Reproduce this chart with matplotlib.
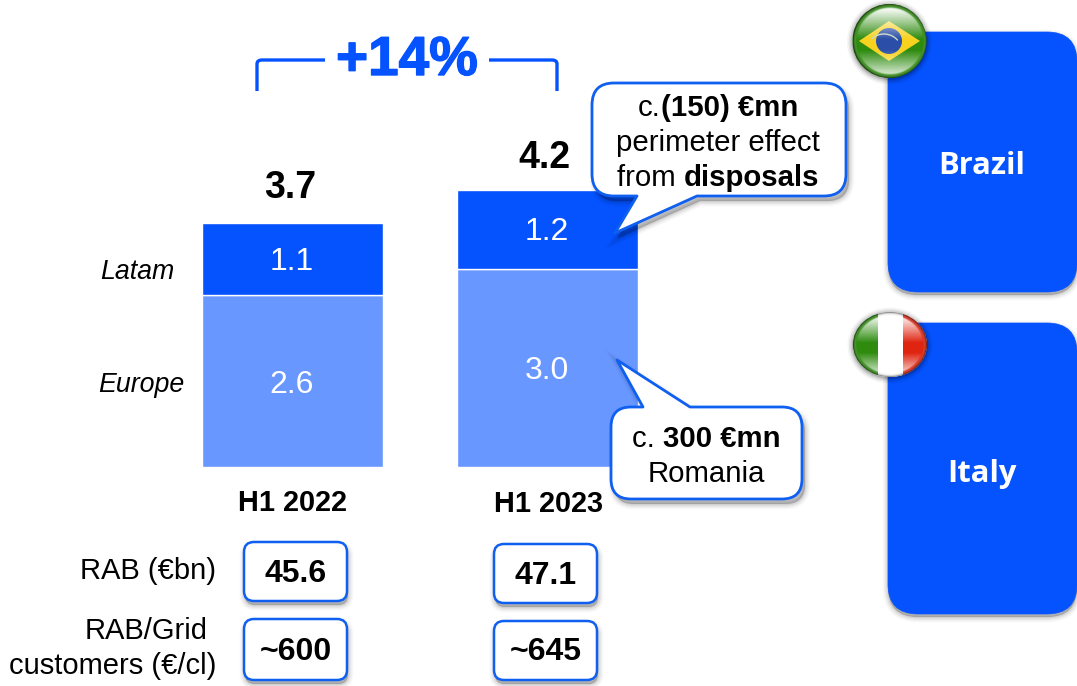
#Grafico de barras apiladas H1 2022 / H1 2023 con paneles de paises
import numpy as np
import matplotlib
matplotlib.use("Agg")
import matplotlib.pyplot as plt
import matplotlib.patheffects as pe
from matplotlib.patches import Ellipse, PathPatch, Polygon, Rectangle, Circle, Arc
from matplotlib.path import Path

plt.rcParams['font.family'] = ['Liberation Sans', 'DejaVu Sans']

#Datos
periodos = ["H1 2022", "H1 2023"]
europe = [2.6, 3.0]
latam = [1.1, 1.2]
totales = [3.7, 4.2]
rab = ["45.6", "47.1"]
rab_clientes = ["~600", "~645"]
variacion = "+14%"

AZUL = "#0552FF"
AZUL_CLARO = "#6897FF"
BORDE = "#0F5FF0"
W, H = 1077, 686

fig = plt.figure(figsize=(W / 100, H / 100), dpi=100, facecolor="white")

#Eje de las barras: 66 px por unidad, categorias separadas 255 px
y0 = 467
ax_b = fig.add_axes([0, (H - y0) / H, 1, y0 / H])
ax_b.set_xlim(-292.5 / 255, (W - 292.5) / 255)
ax_b.set_ylim(0, y0 / 66)
ax_b.axis("off")

#Eje en pixeles para las anotaciones
ax = fig.add_axes([0, 0, 1, 1], facecolor="none")
ax.set_xlim(0, W)
ax.set_ylim(H, 0)
ax.axis("off")

x = np.arange(len(periodos))
ax_b.bar(x, europe, width=0.71, color=AZUL_CLARO, edgecolor="white", linewidth=1)
ax_b.bar(x, latam, width=0.71, bottom=europe, color=AZUL, edgecolor="white", linewidth=1)
for i in x:
    ax_b.annotate(f"{europe[i]:.1f}", (i, europe[i] / 2), xytext=(-0.5, -2.5), textcoords="offset points",
                  color="white", fontsize=23, ha="center", va="center")
    ax_b.annotate(f"{latam[i]:.1f}", (i, europe[i] + latam[i] / 2), xytext=(-0.5, -2), textcoords="offset points",
                  color="white", fontsize=23, ha="center", va="center")
    #el total de la segunda barra queda algo mas cerca de la barra
    ax_b.annotate(f"{totales[i]:.1f}", (i, europe[i] + latam[i]), xytext=(-2, 12 - 2 * i), textcoords="offset points",
                  fontsize=27, fontweight="bold", ha="center", va="bottom", color="black")


#Sombra difusa: varias copias desplazadas con poca opacidad
def sombra(path, dx=3, dy=5, zorder=2):
    p = path.transformed(matplotlib.transforms.Affine2D().translate(dx, dy))
    for lw, alpha in [(8, 0.025), (6, 0.035), (4, 0.05), (2, 0.06), (0.5, 0.06)]:
        ax.add_patch(PathPatch(p, facecolor=(0, 0, 0, alpha), edgecolor=(0, 0, 0, alpha), linewidth=lw, zorder=zorder))


#Rectangulo redondeado, con cola opcional arriba o abajo
def caja_path(x0, y0, x1, y1, r, cola=None, lado=None):
    v = [(x0 + r, y0)]
    c = [Path.MOVETO]
    if lado == "top":
        v += cola
        c += [Path.LINETO] * 3
    v += [(x1 - r, y0), (x1, y0), (x1, y0 + r), (x1, y1 - r), (x1, y1), (x1 - r, y1)]
    c += [Path.LINETO, Path.CURVE3, Path.CURVE3, Path.LINETO, Path.CURVE3, Path.CURVE3]
    if lado == "bottom":
        v += cola
        c += [Path.LINETO] * 3
    v += [(x0 + r, y1), (x0, y1), (x0, y1 - r), (x0, y0 + r), (x0, y0), (x0 + r, y0), (x0 + r, y0)]
    c += [Path.LINETO, Path.CURVE3, Path.CURVE3, Path.LINETO, Path.CURVE3, Path.CURVE3, Path.CLOSEPOLY]
    return Path(v, c)


def caja(x0, y0, x1, y1, r, cola=None, lado=None, fc="white", ec=BORDE, lw=2.0, zorder=3, sdx=3, sdy=5):
    p = caja_path(x0, y0, x1, y1, r, cola, lado)
    sombra(p, sdx, sdy, zorder - 0.5)
    ax.add_patch(PathPatch(p, facecolor=fc, edgecolor=ec, linewidth=lw, zorder=zorder, joinstyle="round"))


#Linea de texto con tramos en negrita, centrada en cx
def texto_mixto(cx, y, tramos, size):
    r = fig.canvas.get_renderer()

    def ancho(s, peso):
        t = ax.text(0, 0, "x" + s + "x", fontsize=size, fontweight=peso)
        a = t.get_window_extent(r).width
        t.set_text("xx")
        a -= t.get_window_extent(r).width
        t.remove()
        return a

    anchos = [ancho(s, "bold" if b else "normal") for s, b in tramos]
    xi = cx - sum(anchos) / 2
    for (s, b), a in zip(tramos, anchos):
        ax.text(xi, y, s, fontsize=size, fontweight="bold" if b else "normal",
                ha="left", va="baseline", color="black", zorder=6)
        xi += a


#Corchete superior con la variacion
ax.add_patch(PathPatch(Path([(257, 91), (257, 64), (257, 60), (262, 60), (325, 60)],
                            [Path.MOVETO, Path.LINETO, Path.CURVE3, Path.CURVE3, Path.LINETO]),
                       fill=False, edgecolor=AZUL, linewidth=2.4, capstyle="butt"))
ax.add_patch(PathPatch(Path([(489, 60), (552, 60), (557, 60), (557, 64), (557, 91)],
                            [Path.MOVETO, Path.LINETO, Path.CURVE3, Path.CURVE3, Path.LINETO]),
                       fill=False, edgecolor=AZUL, linewidth=2.4, capstyle="butt"))
ax.text(407, 61, variacion, color=AZUL, fontsize=39.5, fontweight="bold", ha="center", va="center",
        path_effects=[pe.withStroke(linewidth=1.0, foreground=AZUL)])

#Etiquetas de series y periodos
ax.text(137, 272, "Latam", fontsize=19.3, style="italic", ha="center", va="center")
ax.text(141, 385, "Europe", fontsize=19.3, style="italic", ha="center", va="center")
ax.text(292.5, 503, periodos[0], fontsize=20.8, fontweight="bold", ha="center", va="center")
ax.text(548, 504, periodos[1], fontsize=20.8, fontweight="bold", ha="center", va="center")

#Callouts
caja(592, 83, 846, 196, 22, cola=[(697, 196), (615, 233), (637, 196)], lado="bottom")
texto_mixto(718, 116, [("c.", False), ("(150) €mn", True)], 21.2)
texto_mixto(718, 151, [("perimeter effect", False)], 21.2)
texto_mixto(718, 186, [("from ", False), ("disposals", True)], 21.2)

caja(611, 407, 802, 499, 20, cola=[(643, 407), (617, 360), (690, 407)], lado="top")
texto_mixto(706, 447, [("c. ", False), ("300 €mn", True)], 21.2)
texto_mixto(706, 482, [("Romania", False)], 21.2)

#Cajas de indicadores
filas = [(rab, [(542, 601), (544, 603)]), (rab_clientes, [(619, 680), (621, 680)])]
for valores, ys in filas:
    for v, xi, (ya, yb) in zip(valores, [244, 494], ys):
        caja(xi, ya, xi + 103, yb, 10, lw=1.8, sdx=1, sdy=4)
        ax.text(xi + 51.5, (ya + yb) / 2 + 2, v, fontsize=23, fontweight="bold", ha="center", va="center", zorder=6)

ax.text(216, 571, "RAB (€bn)", fontsize=21, ha="right", va="center")
ax.text(208, 631, "RAB/Grid", fontsize=21, ha="right", va="center")
ax.text(216, 666, "customers (€/cl)", fontsize=21, ha="right", va="center")

#Paneles de paises, el borde derecho queda en el limite de la figura
caja(888, 32, W, 292, 30, fc=AZUL, ec=AZUL, lw=0.5, sdx=0, sdy=3)
caja(888, 323, W, 614, 30, fc=AZUL, ec=AZUL, lw=0.5, sdx=0, sdy=3)
ax.text(982, 166, "Brazil", fontsize=22.3, fontweight="bold", family="Open Sans", color="white", ha="center", va="center", zorder=6)
ax.text(982, 474, "Italy", fontsize=22.3, fontweight="bold", family="Open Sans", color="white", ha="center", va="center", zorder=6)


#Brillo de las banderas esfericas: reflejo arriba y abajo, borde oscuro
def brillo(cx, cy, rx, ry, zorder):
    n = 200
    yy, xx = np.mgrid[-1:1:n * 1j, -1:1:n * 1j]
    rad = np.hypot(xx, yy)
    interior = np.clip((0.94 - rad) / 0.06, 0, 1)
    arriba = np.clip((-0.05 - yy) / 0.8, 0, 1) * 0.95
    abajo = np.clip((yy - 0.25) / 0.6, 0, 1) * 0.75
    borde = np.clip((rad - 0.91) / 0.09, 0, 1)
    rgba = np.ones((n, n, 4))
    rgba[..., :3] = (1 - borde)[..., None]
    rgba[..., 3] = np.maximum((arriba + abajo) * interior, borde * 0.55)
    im = ax.imshow(rgba, extent=(cx - rx, cx + rx, cy + ry, cy - ry), zorder=zorder, interpolation="bilinear", aspect="auto")
    im.set_clip_path(Ellipse((cx, cy), 2 * rx, 2 * ry, transform=ax.transData))


def sombra_bandera(cx, cy, rx, ry):
    for d, alpha in [(11, 0.04), (8, 0.06), (5, 0.09), (2, 0.15)]:
        ax.add_patch(Ellipse((cx, cy + 1), 2 * rx + d, 2 * ry + d, facecolor=(0, 0, 0, alpha), edgecolor="none", zorder=7))


#Brasil
bx, by, brx, bry = 889.5, 41, 37, 37
sombra_bandera(bx, by, brx, bry)
ax.add_patch(Ellipse((bx, by), 2 * brx, 2 * bry, facecolor="#2E8B0E", edgecolor="none", zorder=8))
ax.add_patch(Polygon([(859, 41), (889, 21), (920, 41), (889, 61)], facecolor="#F7D21E", edgecolor="none", zorder=8.1))
ax.add_patch(Circle((889, 41), 13, facecolor="#2B4FA8", edgecolor="none", zorder=8.2))
ax.add_patch(Arc((884, 52), 36, 36, theta1=225, theta2=320, edgecolor="#C9D8C0", linewidth=1, zorder=8.3))
brillo(bx, by, brx, bry, 8.5)

#Italia
ix, iy, irx, iry = 890, 344.5, 37, 32.5
sombra_bandera(ix, iy, irx, iry)
ax.add_patch(Ellipse((ix, iy), 2 * irx, 2 * iry, facecolor="white", edgecolor="none", zorder=8))
for x0, ancho_f, col in [(853, 25, "#2E8B0E"), (878, 25, "white"), (903, 25, "#DF2410")]:
    franja = Rectangle((x0, 310), ancho_f, 70, facecolor=col, edgecolor="none", zorder=8.1)
    ax.add_patch(franja)
    franja.set_clip_path(Ellipse((ix, iy), 2 * irx, 2 * iry, transform=ax.transData))
brillo(ix, iy, irx, iry, 8.5)

ax.set_xlim(0, W)
ax.set_ylim(H, 0)
fig.savefig("out.png", dpi=100)
